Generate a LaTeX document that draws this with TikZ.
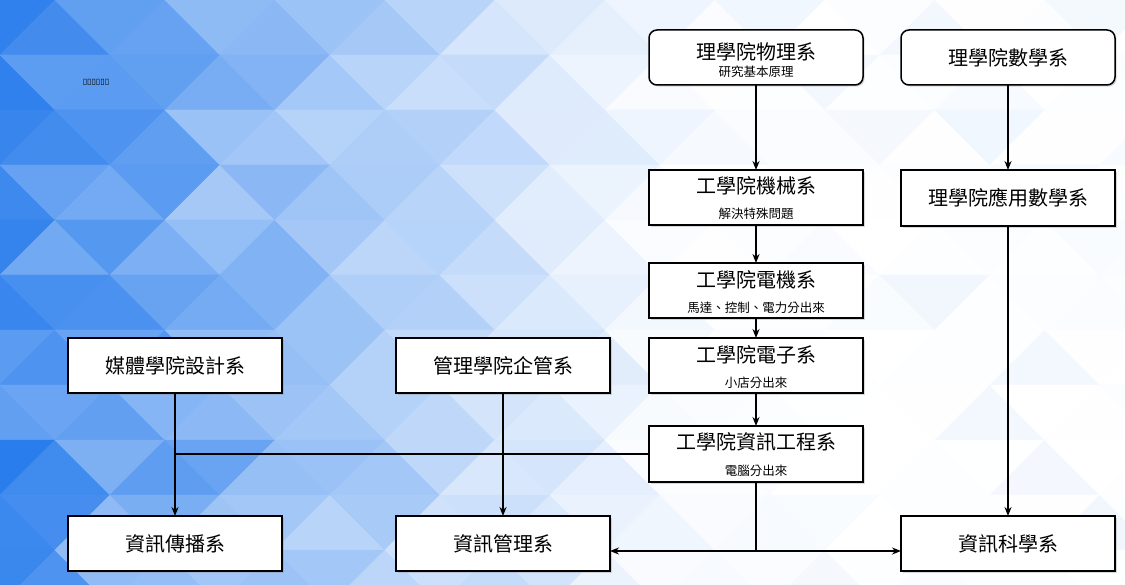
\documentclass[tikz,border=0pt]{standalone}
\usepackage{fontspec}
\setmainfont{Noto Sans CJK TC}
\newfontfamily\dvfont{DejaVu Sans}
\usetikzlibrary{arrows.meta,shadows}
\definecolor{bgblue}{RGB}{40,124,236}
\begin{document}
\begin{tikzpicture}[x=1pt,y=-1pt,
  box/.style={draw=black, line width=1.5pt, fill=white, minimum width=214pt, minimum height=55pt,
    inner sep=0pt, outer sep=0pt, font=\fontsize{20}{24}\selectfont,
    drop shadow={shadow xshift=1.6pt, shadow yshift=-1.6pt, opacity=0.3}},
  rbox/.style={box, rounded corners=8pt},
  ttl/.style={font=\fontsize{20}{24}\selectfont, inner sep=0pt},
  subt/.style={font=\fontsize{12.5}{14}\selectfont, inner sep=0pt},
  conn/.style={line width=1.6pt, draw=black},
  arr/.style={conn, -{Stealth[length=9pt,width=7pt]}}]
\useasboundingbox (0,0) rectangle (1125,585);
% background
\begin{scope}
  \clip (0,0) rectangle (1125,585);
  \fill[white] (0,0) rectangle (1125,585);
  \pgfmathsetseed{12}
  \foreach \r in {0,...,11}{
    \foreach \c in {-1,...,11}{
      \pgfmathsetmacro\xo{\c*110+mod(\r,2)*55}
      \pgfmathsetmacro\ya{\r*55}
      \pgfmathsetmacro\yb{\r*55+55}
      \pgfmathsetmacro\cxa{\xo+55}
      \pgfmathsetmacro\pa{100*min(1,max(0,1-\cxa/680)*(0.6+0.4*rnd)+0.07*rnd*rnd)}
      \filldraw[fill=bgblue!\pa!white, draw=bgblue!\pa!white, line width=0.4pt]
        (\xo,\yb) -- (\xo+110,\yb) -- (\xo+55,\ya) -- cycle;
      \pgfmathsetmacro\cxb{\xo+110}
      \pgfmathsetmacro\pb{100*min(1,max(0,1-\cxb/680)*(0.6+0.4*rnd)+0.07*rnd*rnd)}
      \filldraw[fill=bgblue!\pb!white, draw=bgblue!\pb!white, line width=0.4pt]
        (\xo+55,\ya) -- (\xo+165,\ya) -- (\xo+110,\yb) -- cycle;
    }
  }
\end{scope}
\node[font=\dvfont\fontsize{8}{8}\selectfont, inner sep=0pt] (tofu) at (96,82) {▯▯▯▯▯▯};
% boxes
\node[rbox] (phys) at (756,57.5) {};
\node[ttl] (physT) at (756,52) {理學院物理系};
\node[subt] (physS) at (756,72) {研究基本原理};
\node[rbox] (math) at (1008,57.5) {理學院數學系};
\node[box, minimum height=56pt] (appmath) at (1008,198) {理學院應用數學系};
\node[box] (mech) at (756,197.5) {};
\node[ttl] (mechT) at (756,186) {工學院機械系};
\node[subt] (mechS) at (756,214) {解決特殊問題};
\node[box] (ee) at (756,290.5) {};
\node[ttl] (eeT) at (756,280) {工學院電機系};
\node[subt] (eeS) at (756,308) {馬達、控制、電力分出來};
\node[box] (elec) at (756,365.5) {};
\node[ttl] (elecT) at (756,355) {工學院電子系};
\node[subt] (elecS) at (756,383) {小店分出來};
\node[box, minimum height=56pt] (csie) at (756,454) {};
\node[ttl] (csieT) at (756,442) {工學院資訊工程系};
\node[subt] (csieS) at (756,471) {電腦分出來};
\node[box] (media) at (175,365.5) {媒體學院設計系};
\node[box] (mgmt) at (503,365.5) {管理學院企管系};
\node[box] (comm) at (175,543.5) {資訊傳播系};
\node[box] (im) at (503,543.5) {資訊管理系};
\node[box] (cs) at (1008,543.5) {資訊科學系};
% connectors
\draw[arr] (phys.south) -- (mech.north);
\draw[arr] (mech.south) -- (ee.north);
\draw[arr] (ee.south) -- (elec.north);
\draw[arr] (elec.south) -- (csie.north);
\draw[arr] (math.south) -- (appmath.north);
\draw[arr] (appmath.south) -- (cs.north);
\draw[arr] (media.south) -- (comm.north);
\draw[arr] (mgmt.south) -- (im.north);
\coordinate (j1) at (media.south |- csie.west);
\draw[conn] (csie.west) -- (j1);
\coordinate (j2) at (756,551);
\draw[conn] (csie.south) -- (j2);
\draw[arr] (j2) -- (im.east |- j2);
\draw[arr] (j2) -- (cs.west |- j2);
\end{tikzpicture}
\end{document}
